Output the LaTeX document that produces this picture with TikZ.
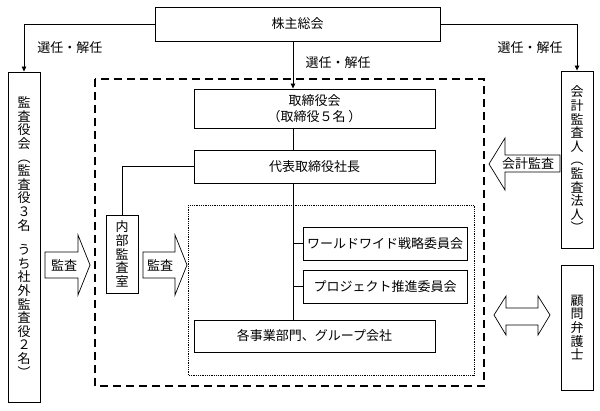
\documentclass[tikz,border=0pt]{standalone}
\usepackage{fontspec}
\setmainfont{Noto Sans CJK JP}
\usetikzlibrary{arrows.meta,calc,positioning}

\begin{document}
\begin{tikzpicture}[x=1pt,y=-1pt,
  every node/.style={font=\fontsize{13}{16}\selectfont},
  box/.style={draw,line width=0.9pt,inner sep=0pt,align=center},
  tate/.style={box,minimum width=32pt,font=\fontsize{13}{13.6}\selectfont},
  link/.style={line width=0.8pt},
  feed/.style={link,-{Triangle[length=5pt,width=4.5pt]}},
  yajirushi/.style={line width=0.7pt,line join=miter}]
  \useasboundingbox (0,0) rectangle (600,410);

  % groups
  \draw[line width=1.1pt,dash pattern=on 8pt off 5pt] (95,79) rectangle (484,386);
  \draw[line width=0.8pt,densely dotted] (188,205) rectangle (474,375);

  % boxes
  \node[box,minimum width=285pt,minimum height=34pt] (sokai) at (297.5,24) {株主総会};
  \node[tate,minimum height=330pt] (kansayaku) at (24,237)
    {監\\査\\役\\会\\︵\\監\\査\\役\\３\\名\\[11pt]う\\ち\\社\\外\\監\\査\\役\\２\\名\\︶};
  \node[box,minimum width=241pt,minimum height=39pt] (torishimari) at (314.5,108.5)
    {取締役会\\（取締役５名 ）};
  \node[box,minimum width=241pt,minimum height=33pt] (daihyo) at (314.5,166.5) {代表取締役社長};
  \node[tate,minimum height=78pt] (naibu) at (122,254) {内\\部\\監\\査\\室};
  \node[box,minimum width=164pt,minimum height=33pt] (worldwide) at (385,243.5) {ワールドワイド戦略委員会};
  \node[box,minimum width=164pt,minimum height=33pt] (project) at (385,286.5) {プロジェクト推進委員会};
  \node[box,minimum width=241pt,minimum height=32pt] (jigyo) at (314.5,336) {各事業部門、グループ会社};
  \node[tate,minimum height=177pt] (kaikei) at (577,159.5)
    {会\\計\\監\\査\\人\\︵\\監\\査\\法\\人\\︶};
  \node[tate,minimum height=125pt] (komon) at (577,327.5) {顧\\問\\弁\\護\\士};

  \coordinate (spine) at (293,0);

  % connectors
  \draw[feed] (sokai.west) -| (kansayaku.north);
  \draw[feed] (sokai.east) -| (kaikei.north);
  \draw[feed] (sokai.south -| spine) -- (torishimari.north -| spine);
  \draw[link] (torishimari.south -| spine) -- (daihyo.north -| spine);
  \draw[link] (daihyo.south -| spine) -- (jigyo.north -| spine);
  \draw[link] (worldwide.west) -- (worldwide.west -| spine);
  \draw[link] (project.west) -- (project.west -| spine);
  \draw[link] (daihyo.west) -| (naibu.north);

  \node (senninL) at (70,48) {選任・解任};
  \node (senninC) at (338,63) {選任・解任};
  \node (senninR) at (530,48) {選任・解任};

  % block arrows
  \draw[yajirushi] (45,252) -- (78,252) -- (78,235) -- (90,265) -- (78,295) -- (78,278) -- (45,278) -- cycle;
  \node (kansaA) at (64,265) {監査};
  \draw[yajirushi] (143,252) -- (175,252) -- (175,235) -- (187,265) -- (175,295) -- (175,278) -- (143,278) -- cycle;
  \node (kansaB) at (160,265) {監査};
  \draw[yajirushi] (560,155) -- (505,155) -- (505,138) -- (489,164) -- (505,190) -- (505,172) -- (560,172) -- cycle;
  \node (kaikeikansa) at (528,164) {会計監査};
  \draw[yajirushi] (494,315) -- (506,296) -- (506,308) -- (538,308) -- (538,296) -- (550,315)
    -- (538,335) -- (538,325) -- (506,325) -- (506,335) -- cycle;
\end{tikzpicture}
\end{document}
